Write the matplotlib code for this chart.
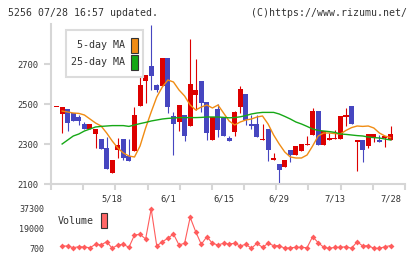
import matplotlib
matplotlib.use('Agg')
import matplotlib.pyplot as plt
from matplotlib.patches import Rectangle
import numpy as np

# daily candles (index 0 .. 60)
opens = [2486, 2448, 2473, 2453, 2433, 2400, 2373, 2350, 2325, 2282,
         2153, 2270, 2325, 2242, 2267, 2492, 2615, 2690, 2595, 2590,
         2732, 2440, 2408, 2445, 2392, 2545, 2615, 2510, 2320, 2475,
         2428, 2332, 2362, 2487, 2550, 2400, 2400, 2322, 2375, 2220,
         2200, 2187, 2270, 2245, 2267, 2293, 2345, 2465, 2295, 2320,
         2325, 2325, 2437, 2490, 2308, 2320, 2292, 2332, 2320, 2328, 2320]
closes = [2486, 2486, 2403, 2415, 2417, 2373, 2400, 2375, 2275, 2175,
          2220, 2295, 2232, 2217, 2445, 2595, 2645, 2642, 2570, 2732,
          2487, 2402, 2495, 2340, 2600, 2570, 2507, 2357, 2433, 2370,
          2340, 2317, 2462, 2575, 2420, 2392, 2337, 2327, 2270, 2232,
          2170, 2220, 2245, 2290, 2300, 2298, 2465, 2295, 2367, 2328,
          2332, 2440, 2445, 2400, 2320, 2270, 2350, 2350, 2308, 2340, 2350]
highs = [2486, 2486, 2473, 2453, 2445, 2412, 2400, 2375, 2325, 2333,
         2220, 2328, 2325, 2325, 2485, 2645, 2645, 2895, 2600, 2732,
         2732, 2462, 2495, 2445, 2827, 2725, 2615, 2510, 2433, 2500,
         2428, 2340, 2467, 2590, 2550, 2445, 2445, 2400, 2375, 2255,
         2200, 2220, 2270, 2290, 2300, 2340, 2482, 2465, 2367, 2353,
         2370, 2440, 2482, 2490, 2320, 2320, 2350, 2350, 2345, 2340, 2390]
lows = [2486, 2353, 2365, 2415, 2395, 2373, 2373, 2278, 2275, 2175,
        2153, 2228, 2220, 2217, 2267, 2492, 2503, 2570, 2562, 2590,
        2453, 2245, 2365, 2317, 2392, 2470, 2462, 2320, 2320, 2337,
        2340, 2317, 2340, 2457, 2395, 2375, 2337, 2322, 2217, 2220,
        2095, 2187, 2212, 2245, 2267, 2293, 2345, 2295, 2295, 2320,
        2325, 2325, 2392, 2400, 2167, 2212, 2278, 2312, 2308, 2287, 2320]

# moving averages and volume (index 1 .. 60)
ma5 = [2465, 2460, 2455, 2453, 2445, 2425, 2405, 2390, 2355, 2315,
       2280, 2255, 2240, 2235, 2290, 2380, 2460, 2535, 2585, 2620,
       2610, 2570, 2540, 2495, 2470, 2485, 2495, 2480, 2495, 2455,
       2415, 2395, 2410, 2420, 2425, 2435, 2440, 2400, 2345, 2300,
       2260, 2235, 2230, 2230, 2245, 2290, 2340, 2355, 2355, 2352,
       2350, 2368, 2382, 2390, 2388, 2390, 2380, 2355, 2340, 2332]
ma25 = [2300, 2320, 2340, 2350, 2365, 2375, 2385, 2388, 2390, 2392,
        2392, 2392, 2388, 2395, 2402, 2408, 2415, 2420, 2425, 2428,
        2430, 2432, 2432, 2432, 2432, 2433, 2435, 2435, 2435, 2433,
        2431, 2432, 2436, 2442, 2450, 2455, 2458, 2458, 2458, 2450,
        2438, 2425, 2410, 2400, 2388, 2375, 2368, 2365, 2362, 2358,
        2350, 2348, 2345, 2342, 2340, 2335, 2332, 2330, 2325, 2320]
volume = [2840, 2840, 1260, 2200, 1900, 1260, 4420, 3800, 6850, 700,
          3800, 4420, 1600, 13080, 13700, 9360, 37300, 2840, 6850, 10000,
          14000, 3800, 5350, 29550, 16150, 4420, 11500, 5350, 3800, 5350,
          4730, 5350, 2840, 4420, 700, 5350, 1600, 5350, 3150, 3150,
          700, 1260, 1600, 1600, 1260, 11500, 5970, 1600, 700, 1600,
          1600, 2200, 700, 6850, 2840, 3150, 700, 700, 2200, 3150]

date_pos = [10, 20, 30, 40, 50, 60]
date_labels = ['5/18', '6/1', '6/15', '6/29', '7/13', '7/28']
price_ticks = [2100, 2300, 2500, 2700]
vol_ticks = [700, 19000, 37300]

RED = '#dd0000'
BLUE = '#4646c0'
ORANGE = '#f08c14'
GREEN = '#16a816'
VOLC = '#ff5c5c'
AXC = '#d6d6d6'
TXT = '#333333'
FONT = 'DejaVu Sans Mono'
plt.rcParams['font.family'] = FONT

W, H = 420, 259
fig = plt.figure(figsize=(W / 100, H / 100), dpi=100)

def fx(px):
    return px / W

def fy(py):
    return 1 - py / H

XL = (-1.0, 62.6)

# main price panel
ax = fig.add_axes([fx(51), fy(184), fx(405) - fx(51), fy(24) - fy(184)])
o = np.array(opens); c = np.array(closes)
idx = np.arange(len(o))
cols = np.where(c >= o, RED, BLUE)
ax.vlines(idx, lows, highs, colors=cols, lw=0.8)
ax.bar(idx, np.maximum(np.abs(c - o), 5), bottom=np.minimum(o, c),
       width=0.9, color=cols, lw=0)
mx = np.arange(1, len(ma5) + 1)
ax.plot(mx, ma5, color=ORANGE, lw=1.0)
ax.plot(mx, ma25, color=GREEN, lw=1.0)

ax.set_xlim(*XL)
ax.set_ylim(2100, 2900)
for s in ['top', 'right']:
    ax.spines[s].set_visible(False)
for s in ['left', 'bottom']:
    ax.spines[s].set_color(AXC)
    ax.spines[s].set_linewidth(1.5)
ax.set_yticks(price_ticks)
ax.tick_params(axis='y', length=5, width=1.5, color=AXC, labelsize=6.3,
               labelcolor=TXT, pad=4)
ax.set_xticks(date_pos, date_labels)
ax.tick_params(axis='x', which='major', length=0, labelsize=6.3,
               labelcolor=TXT, pad=7.5)
ax.set_xticks(np.linspace(XL[0], XL[1], 12), minor=True)
ax.tick_params(axis='x', which='minor', length=4, width=1.5, color=AXC)

# legend box
fig.patches.append(Rectangle((fx(66), fy(77)), fx(143) - fx(66), fy(30) - fy(77),
                             transform=fig.transFigure, facecolor='white',
                             edgecolor='#dcdcdc', lw=1.5, zorder=5))
for lab, col, yc in [('5-day MA', ORANGE, 45), ('25-day MA', GREEN, 62)]:
    fig.text(fx(125), fy(yc), lab, ha='right', va='center', fontsize=7.2,
             color=TXT, zorder=6)
    fig.patches.append(Rectangle((fx(131), fy(yc + 7.5)), fx(6.5), fy(0) - fy(15),
                                 transform=fig.transFigure, facecolor=col,
                                 edgecolor='#333333', lw=0.8, zorder=6))

# volume panel
av = fig.add_axes([fx(51), fy(248.3), fx(405) - fx(51), fy(209) - fy(248.3)])
vx = np.arange(1, len(volume) + 1)
av.plot(vx, volume, color=VOLC, lw=0.8, marker='D', ms=3.0, mew=0, clip_on=False)
av.set_xlim(*XL)
av.set_ylim(700, 37300)
for s in av.spines.values():
    s.set_visible(False)
av.set_xticks([])
av.set_yticks(vol_ticks, [str(v) for v in vol_ticks])
av.tick_params(axis='y', length=0, labelsize=6.0, labelcolor=TXT, pad=5)
fig.text(fx(58), fy(221.5), 'Volume', ha='left', va='center', fontsize=7.2, color=TXT)
fig.patches.append(Rectangle((fx(101), fy(228)), fx(6.5), fy(0) - fy(15),
                             transform=fig.transFigure, facecolor='#ff6666',
                             edgecolor='#333333', lw=0.8))

# header
fig.text(fx(8), fy(13.5), '5256 07/28 16:57 updated.', ha='left', va='center',
         fontsize=7.1, color=TXT)
fig.text(fx(407), fy(13.5), '(C)https://www.rizumu.net/', ha='right', va='center',
         fontsize=7.1, color=TXT)

fig.savefig('out.png', dpi=100)
